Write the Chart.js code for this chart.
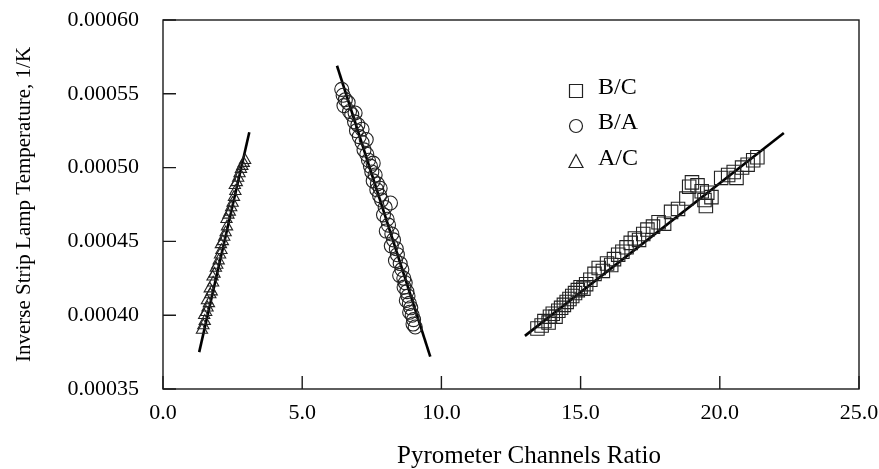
<!DOCTYPE html>
<html>
<head>
<meta charset="utf-8">
<script src="https://cdn.jsdelivr.net/npm/chart.js@4.4.1/dist/chart.umd.min.js"></script>
<style>
  html, body { margin:0; padding:0; background:#fff; }
  #wrap { width:879px; height:469px; }
</style>
</head>
<body>
<div id="wrap"><canvas id="chart" width="879" height="469"></canvas></div>
<script>
// ── DATA ─────────────────────────────────────────────
var xTicks = [0, 5, 10, 15, 20, 25];
var yTicks = [0.00035, 0.00040, 0.00045, 0.00050, 0.00055, 0.00060];
var xTitle = 'Pyrometer Channels Ratio';
var yTitle = 'Inverse Strip Lamp Temperature, 1/K';

// B/C  (squares)
var bcX = [13.45,13.60,13.70,13.85,13.90,14.00,14.10,14.20,14.30,14.40,14.50,14.60,14.70,14.80,14.90,15.00,15.10,15.20,15.35,15.50,15.65,15.80,15.95,16.10,16.20,16.35,16.50,16.65,16.80,16.95,17.10,17.25,17.40,17.60,17.80,18.00,18.25,18.50,18.80,18.90,19.00,19.20,19.35,19.45,19.50,19.55,19.70,20.05,20.30,20.50,20.60,20.80,21.00,21.20,21.35];
var bcY = [0.000391,0.000393,0.000396,0.000395,0.000399,0.000401,0.000399,0.000403,0.000405,0.000407,0.000409,0.000411,0.000413,0.000415,0.000417,0.000419,0.000418,0.000421,0.000424,0.000428,0.000432,0.000430,0.000435,0.000434,0.000438,0.000441,0.000443,0.000446,0.000449,0.000452,0.000451,0.000455,0.000458,0.000460,0.000463,0.000462,0.000470,0.000472,0.000479,0.000487,0.000490,0.000488,0.000484,0.000478,0.000474,0.000483,0.000480,0.000493,0.000495,0.000497,0.000493,0.000500,0.000502,0.000505,0.000507];

// B/A  (circles)
var baX = [6.42,6.47,6.55,6.50,6.65,6.70,6.78,6.90,6.88,7.00,6.95,7.15,7.05,7.15,7.30,7.22,7.32,7.38,7.45,7.55,7.50,7.62,7.55,7.70,7.68,7.80,7.78,7.85,8.17,7.98,7.92,8.05,8.10,8.02,8.22,8.28,8.20,8.38,8.42,8.35,8.52,8.58,8.50,8.65,8.70,8.66,8.76,8.80,8.74,8.85,8.90,8.86,8.95,9.00,8.98,9.06];
var baY = [0.000553,0.000549,0.000546,0.000542,0.000544,0.000538,0.000536,0.000537,0.000531,0.000529,0.000525,0.000526,0.000521,0.000517,0.000519,0.000512,0.000509,0.000505,0.000501,0.000503,0.000497,0.000495,0.000491,0.000489,0.000485,0.000486,0.000481,0.000478,0.000476,0.000473,0.000468,0.000465,0.000461,0.000457,0.000455,0.000451,0.000447,0.000445,0.000441,0.000437,0.000435,0.000431,0.000427,0.000425,0.000422,0.000419,0.000416,0.000413,0.000410,0.000408,0.000405,0.000402,0.000400,0.000397,0.000394,0.000392];

// A/C  (triangles)
var acX = [1.40,1.45,1.50,1.48,1.55,1.60,1.58,1.65,1.70,1.68,1.75,1.80,1.78,1.85,1.90,1.95,2.00,2.05,2.10,2.08,2.15,2.20,2.25,2.30,2.28,2.35,2.40,2.45,2.50,2.55,2.60,2.58,2.65,2.70,2.75,2.80,2.85,2.90,2.95];
var acY = [0.000390,0.000393,0.000396,0.000400,0.000402,0.000405,0.000410,0.000408,0.000414,0.000418,0.000416,0.000422,0.000426,0.000428,0.000432,0.000434,0.000437,0.000441,0.000444,0.000448,0.000450,0.000453,0.000456,0.000460,0.000465,0.000468,0.000470,0.000473,0.000476,0.000480,0.000484,0.000488,0.000490,0.000493,0.000496,0.000499,0.000501,0.000503,0.000505];

// fitted lines (end points)
var fitBcX = [13.0, 22.3],  fitBcY = [0.000386, 0.0005235];
var fitBaX = [6.25, 9.6],   fitBaY = [0.000569, 0.000372];
var fitAcX = [1.3, 3.1],    fitAcY = [0.000375, 0.000524];

function pts(xs, ys){ return xs.map(function(v, i){ return {x:v, y:ys[i]}; }); }

var INK = '#1a1a1a';
var SERIF = '"Liberation Serif", "Times New Roman", serif';

function markerSet(label, xs, ys, style, r){
  return { label:label, data:pts(xs, ys), pointStyle:style, pointRadius:r, pointHoverRadius:r,
           borderColor:'#222', borderWidth:1.1, backgroundColor:'rgba(0,0,0,0)', showLine:false };
}
function fitSet(xs, ys){
  return { label:'fit', data:pts(xs, ys), showLine:true, pointRadius:0, borderColor:'#000',
           borderWidth:2.6, fill:false };
}

// ── inward ticks + frame + x title ───────────────────
var frameTicks = {
  id:'frameTicks',
  afterDraw: function(chart){
    var ctx = chart.ctx, a = chart.chartArea, sx = chart.scales.x, sy = chart.scales.y;
    ctx.save();
    ctx.strokeStyle = INK; ctx.lineWidth = 1.4;
    ctx.strokeRect(a.left, a.top, a.right - a.left, a.bottom - a.top);
    ctx.beginPath();
    xTicks.forEach(function(v){ var p = sx.getPixelForValue(v); ctx.moveTo(p, a.bottom); ctx.lineTo(p, a.bottom - 13); });
    yTicks.forEach(function(v){ var p = sy.getPixelForValue(v); ctx.moveTo(a.left, p); ctx.lineTo(a.left + 13, p); });
    ctx.stroke();
    // x title sits a little right of the plot centre in the original
    ctx.fillStyle = '#000';
    ctx.font = '25px ' + SERIF;
    ctx.textAlign = 'center'; ctx.textBaseline = 'middle';
    ctx.fillText(xTitle, (a.left + a.right) / 2 + 18, a.bottom + 67);
    ctx.restore();
  }
};

// ── legend drawn inside the plot ─────────────────────
var innerLegend = {
  id:'innerLegend',
  afterDraw: function(chart){
    var ctx = chart.ctx;
    var rows = [ {ds:0, y:88}, {ds:1, y:123}, {ds:2, y:159} ];
    ctx.save();
    ctx.font = '24px ' + SERIF;
    ctx.textBaseline = 'middle';
    ctx.fillStyle = '#000';
    rows.forEach(function(r){
      var ds = chart.data.datasets[r.ds];
      var cx = 576, cy = r.y + 3;
      ctx.beginPath();
      ctx.strokeStyle = '#222'; ctx.lineWidth = 1.2;
      if(ds.pointStyle === 'rect') ctx.rect(cx - 6.5, cy - 6.5, 13, 13);
      else if(ds.pointStyle === 'circle') ctx.arc(cx, cy, 6.5, 0, Math.PI * 2);
      else { ctx.moveTo(cx, cy - 7.5); ctx.lineTo(cx + 7, cy + 5.5); ctx.lineTo(cx - 7, cy + 5.5); ctx.closePath(); }
      ctx.stroke();
      ctx.fillText(ds.label, 598, r.y);
    });
    ctx.restore();
  }
};

new Chart(document.getElementById('chart'), {
  type:'scatter',
  data:{ datasets:[
    markerSet('B/C', bcX, bcY, 'rect', 9.5),
    markerSet('B/A', baX, baY, 'circle', 7),
    markerSet('A/C', acX, acY, 'triangle', 6.5),
    fitSet(fitBcX, fitBcY),
    fitSet(fitBaX, fitBaY),
    fitSet(fitAcX, fitAcY)
  ]},
  options:{
    responsive:false, animation:false, devicePixelRatio:1,
    layout:{ padding:{ top:20, right:20, left:0, bottom:0 } },
    plugins:{ legend:{ display:false }, tooltip:{ enabled:false } },
    scales:{
      x:{
        type:'linear', min:0, max:25,
        afterBuildTicks: function(s){ s.ticks = xTicks.map(function(v){ return {value:v}; }); },
        afterFit: function(s){ s.height = 80; s.paddingRight = 0; s.paddingLeft = 0; },
        grid:{ display:false },
        border:{ display:false },
        ticks:{ color:'#000', padding:3, maxRotation:0, font:{ family:SERIF, size:22 },
                callback:function(v){ return Number(v).toFixed(1); } },
        title:{ display:false }
      },
      y:{
        type:'linear', min:0.00035, max:0.0006,
        afterBuildTicks: function(s){ s.ticks = yTicks.map(function(v){ return {value:v}; }); },
        afterFit: function(s){ s.width = 163; s.paddingTop = 0; s.paddingBottom = 0; },
        grid:{ display:false },
        border:{ display:false },
        ticks:{ color:'#000', padding:16, font:{ family:SERIF, size:22 },
                callback:function(v){ return Number(v).toFixed(5); } },
        title:{ display:true, text:yTitle, color:'#000',
                font:{ family:SERIF, size:21 }, padding:{ top:12, bottom:0 } }
      }
    }
  },
  plugins:[frameTicks, innerLegend]
});
</script>
</body>
</html>
